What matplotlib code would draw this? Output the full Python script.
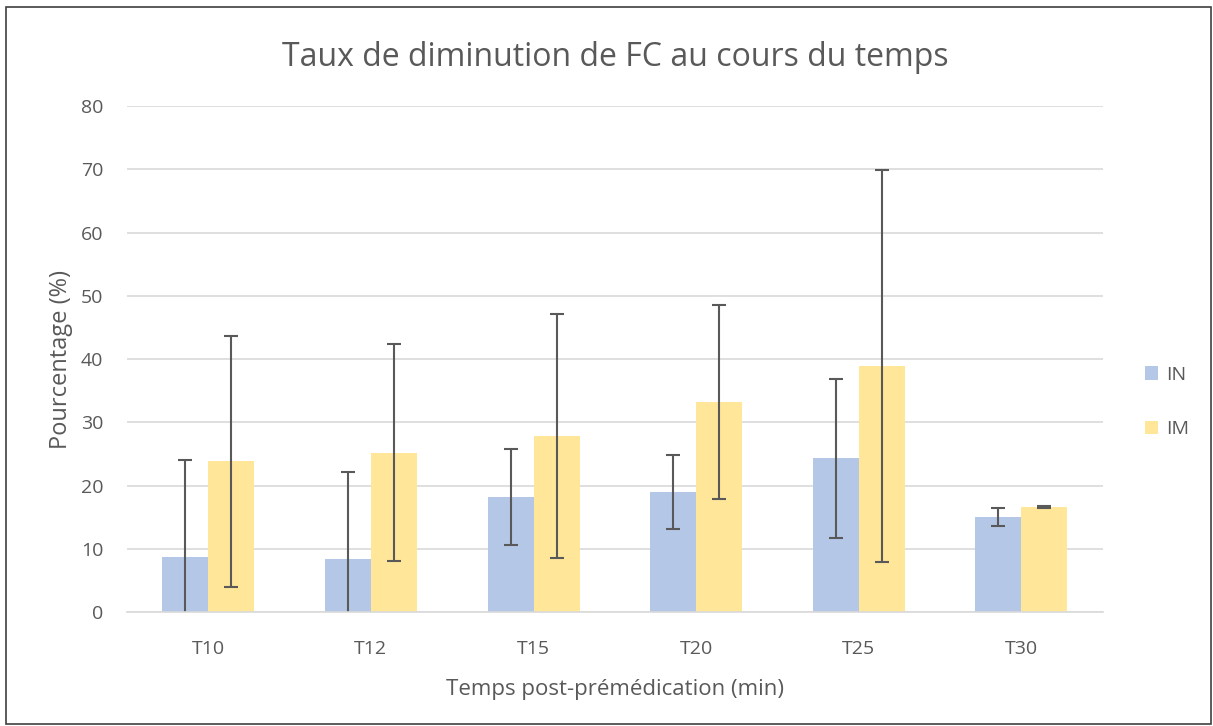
import numpy as np
import matplotlib.pyplot as plt
from matplotlib.patches import Rectangle

# data
categories = ["T10", "T12", "T15", "T20", "T25", "T30"]
in_values = [8.7, 8.4, 18.2, 19.0, 24.3, 15.0]
in_errors = [15.3, 13.8, 7.6, 5.9, 12.6, 1.4]
im_values = [23.8, 25.2, 27.8, 33.2, 38.9, 16.6]
im_errors = [19.8, 17.2, 19.3, 15.4, 31.0, 0.1]

plt.rcParams['font.family'] = ['Open Sans', 'DejaVu Sans']

fig = plt.figure(figsize=(12.13, 7.26), dpi=100)
ax = fig.add_axes([0.1047, 0.157, 0.8044, 0.697])

x = np.arange(len(categories))
w = 0.283
err_kw = dict(ecolor='#595959', elinewidth=1.5, capsize=5, capthick=1.5)

ax.bar(x - w / 2, in_values, w, color='#B4C7E7', label='IN', yerr=in_errors,
       error_kw=err_kw, zorder=2)
ax.bar(x + w / 2, im_values, w, color='#FFE699', label='IM', yerr=im_errors,
       error_kw=err_kw, zorder=2)

ax.set_xlim(-0.5, len(categories) - 0.5)
ax.set_ylim(0, 80)
ax.set_yticks(np.arange(0, 81, 10))
ax.set_xticks(x)
ax.set_xticklabels(categories)
ax.grid(axis='y', color='#D9D9D9', linewidth=1.2, zorder=0)
ax.set_axisbelow(True)
for s in ['top', 'right', 'left']:
    ax.spines[s].set_visible(False)
ax.spines['bottom'].set_color('#D9D9D9')
ax.spines['bottom'].set_linewidth(1.2)
ax.tick_params(axis='both', length=0, labelsize=14, colors='#595959')
ax.tick_params(axis='x', pad=20)
ax.tick_params(axis='y', pad=17)

ax.set_title("Taux de diminution de FC au cours du temps", fontsize=23,
             color='#595959', pad=29)
ax.set_ylabel("Pourcentage (%)", fontsize=17, color='#595959', labelpad=6)
ax.set_xlabel("Temps post-prémédication (min)", fontsize=16, color='#595959',
              labelpad=15)

ax.legend(loc='center left', bbox_to_anchor=(1.025, 0.415), frameon=False,
          fontsize=14, labelcolor='#595959', handlelength=0.7, handleheight=0.7,
          labelspacing=1.9, handletextpad=0.4)

# outer chart border
fig.add_artist(Rectangle((0.005, 0.003), 0.993, 0.987, transform=fig.transFigure,
                         fill=False, edgecolor='#404040', linewidth=1.2))

plt.savefig("out.png", dpi=100)
